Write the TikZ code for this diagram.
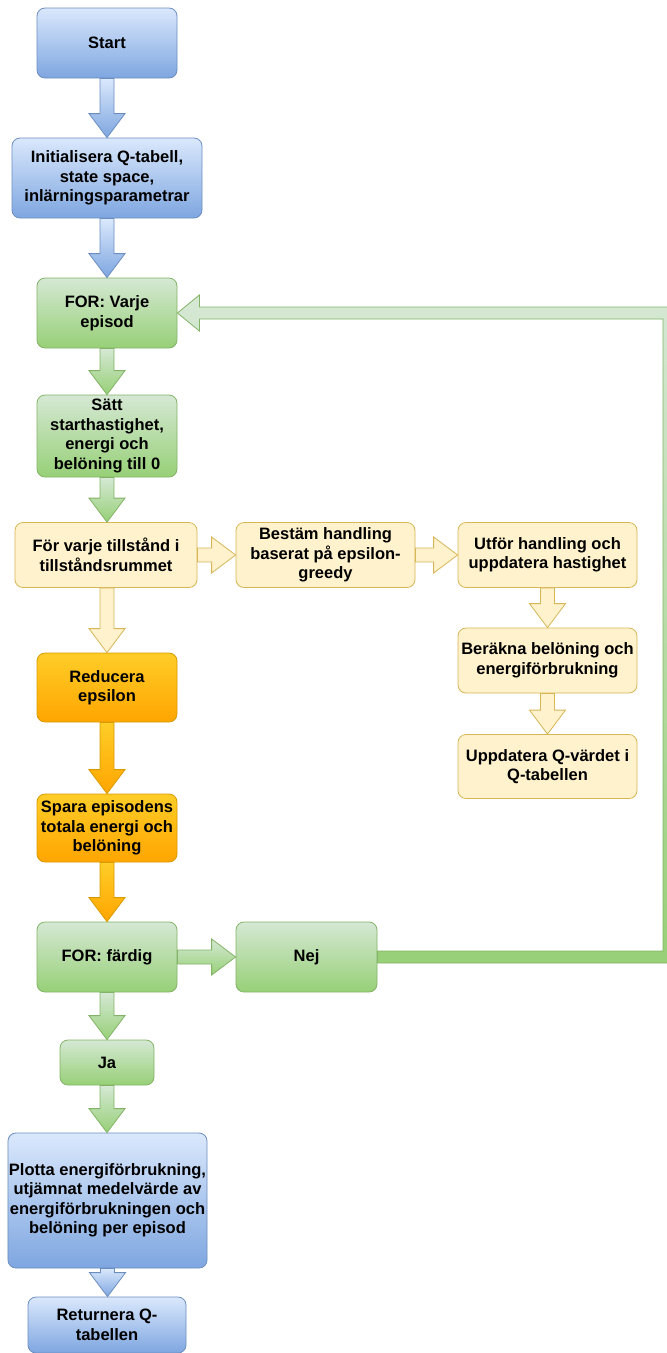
\documentclass[tikz,border=0pt]{standalone}
\usepackage{fontspec}
\setmainfont{Liberation Sans}
\usetikzlibrary{calc}

\definecolor{blueTop}{HTML}{DAE8FC}
\definecolor{blueBot}{HTML}{7EA6E0}
\definecolor{blueLine}{HTML}{6C8EBF}
\definecolor{greenTop}{HTML}{D5E8D4}
\definecolor{greenBot}{HTML}{97D077}
\definecolor{greenLine}{HTML}{82B366}
\definecolor{yellowFill}{HTML}{FFF2CC}
\definecolor{yellowLine}{HTML}{D6B656}
\definecolor{orangeTop}{HTML}{FFCD28}
\definecolor{orangeBot}{HTML}{FFA500}
\definecolor{orangeLine}{HTML}{D79B00}

% block arrow going down: style, from, to
\newcommand{\vflow}[3]{%
  \path[#1] let \p1=(#2), \p2=(#3) in
    (\x1-7pt,\y1) -- (\x1+7pt,\y1) -- (\x1+7pt,\y2+24pt) -- (\x1+18pt,\y2+24pt)
    -- (\x1,\y2) -- (\x1-18pt,\y2+24pt) -- (\x1-7pt,\y2+24pt) -- cycle;}
% block arrow going right: style, from, to
\newcommand{\hflow}[3]{%
  \path[#1] let \p1=(#2), \p2=(#3) in
    (\x1,\y1+7pt) -- (\x2-24pt,\y1+7pt) -- (\x2-24pt,\y1+18pt) -- (\x2,\y1)
    -- (\x2-24pt,\y1-18pt) -- (\x2-24pt,\y1-7pt) -- (\x1,\y1-7pt) -- cycle;}

\begin{document}
\begin{tikzpicture}[x=1pt, y=-1pt,
    every node/.style={font=\fontsize{16.5}{19.5}\selectfont\bfseries, align=center, inner sep=1pt},
    box/.style={rounded corners=8pt, line width=0.8pt},
    bluebox/.style={box, draw=blueLine, top color=blueTop, bottom color=blueBot},
    greenbox/.style={box, draw=greenLine, top color=greenTop, bottom color=greenBot},
    yellowbox/.style={box, draw=yellowLine, fill=yellowFill},
    orangebox/.style={box, draw=orangeLine, top color=orangeTop, bottom color=orangeBot},
    bluearr/.style={draw=blueLine, line width=0.8pt, top color=blueTop, bottom color=blueBot},
    greenarr/.style={draw=greenLine, line width=0.8pt, top color=greenTop, bottom color=greenBot},
    yellowarr/.style={draw=yellowLine, line width=0.8pt, fill=yellowFill},
    orangearr/.style={draw=orangeLine, line width=0.8pt, top color=orangeTop, bottom color=orangeBot}]
  \useasboundingbox (0,0) rectangle (667,1353);

  % huvudkolumn
  \node[bluebox, minimum width=140pt, minimum height=70pt] (start) at (107,43) {Start};
  \node[bluebox, minimum width=190pt, minimum height=80pt] (init) at (107,178)
    {Initialisera Q-tabell,\\state space,\\inlärningsparametrar};
  \node[greenbox, minimum width=140pt, minimum height=70pt] (varje) at (107,313) {FOR: Varje\\episod};
  \node[greenbox, minimum width=140pt, minimum height=82pt] (satt) at (107,436)
    {Sätt\\starthastighet,\\energi och\\belöning till 0};

  % inre loop
  \node[yellowbox, minimum width=182pt, minimum height=65pt] (tillst) at (106,555)
    {För varje tillstånd i\\tillståndsrummet};
  \node[yellowbox, minimum width=179pt, minimum height=65pt] (bestam) at (325.5,555)
    {Bestäm handling\\baserat på epsilon-\\greedy};
  \node[yellowbox, minimum width=179pt, minimum height=65pt] (utfor) at (547.5,555)
    {Utför handling och\\uppdatera hastighet};
  \node[yellowbox, minimum width=179pt, minimum height=65pt] (berakna) at (547.5,660.5)
    {Beräkna belöning och\\energiförbrukning};
  \node[yellowbox, minimum width=179pt, minimum height=64pt] (uppdat) at (547.5,766.5)
    {Uppdatera Q-värdet i\\Q-tabellen};

  \node[orangebox, minimum width=140pt, minimum height=69pt] (reducera) at (107,687.5) {Reducera\\epsilon};
  \node[orangebox, minimum width=140pt, minimum height=68pt] (spara) at (107,828)
    {Spara episodens\\totala energi och\\belöning};

  \node[greenbox, minimum width=140pt, minimum height=70pt] (fardig) at (107,957) {FOR: färdig};
  \node[greenbox, minimum width=141pt, minimum height=70pt] (nej) at (306.5,957) {Nej};
  \node[greenbox, minimum width=94pt, minimum height=45pt] (ja) at (107,1062.5) {Ja};

  \node[bluebox, minimum width=199pt, minimum height=135pt] (plotta) at (107.5,1200.5)
    {Plotta energiförbrukning,\\utjämnat medelvärde av\\energiförbrukningen och\\belöning per episod};
  \node[bluebox, minimum width=158pt, minimum height=56pt] (returnera) at (107,1325)
    {Returnera Q-\\tabellen};

  % pilar
  \vflow{bluearr}{start.south}{init.north}
  \vflow{bluearr}{init.south}{varje.north}
  \vflow{greenarr}{varje.south}{satt.north}
  \vflow{greenarr}{satt.south}{tillst.north}
  \hflow{yellowarr}{tillst.east}{bestam.west}
  \hflow{yellowarr}{bestam.east}{utfor.west}
  \vflow{yellowarr}{utfor.south}{berakna.north}
  \vflow{yellowarr}{berakna.south}{uppdat.north}
  \vflow{yellowarr}{reducera.north |- tillst.south}{reducera.north}
  \vflow{orangearr}{reducera.south}{spara.north}
  \vflow{orangearr}{spara.south}{fardig.north}
  \hflow{greenarr}{fardig.east}{nej.west}
  \vflow{greenarr}{fardig.south}{ja.north}
  \vflow{greenarr}{ja.south}{plotta.north}
  \vflow{bluearr}{plotta.south}{returnera.north}

  % tillbaka till nästa episod
  \coordinate (turn) at (669,957);
  \path[greenarr] let \p1=(nej.east), \p2=(varje.east), \p3=(turn) in
    (\x1,\y1+6pt) -- (\x3-6pt,\y1+6pt) -- (\x3-6pt,\y2-6pt) -- (\x2+22pt,\y2-6pt)
    -- (\x2+22pt,\y2-18pt) -- (\x2,\y2) -- (\x2+22pt,\y2+18pt) -- (\x2+22pt,\y2+6pt)
    -- (\x3+6pt,\y2+6pt) -- (\x3+6pt,\y1-6pt) -- (\x1,\y1-6pt) -- cycle;
\end{tikzpicture}
\end{document}
